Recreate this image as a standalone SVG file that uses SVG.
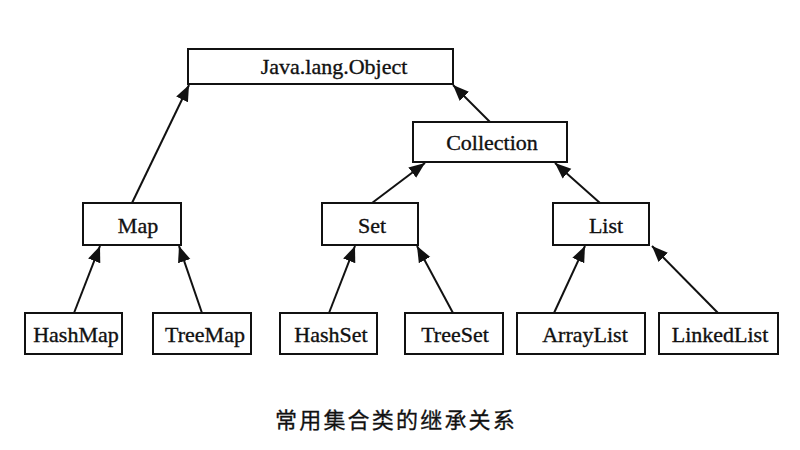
<svg xmlns="http://www.w3.org/2000/svg" width="800" height="450" viewBox="0 0 800 450">
<style>
.box{fill:#fff;stroke:#111;stroke-width:2}
.lbl{font-family:"Liberation Serif","Times New Roman",serif;font-size:22px;fill:#111;stroke:#111;stroke-width:0.35;text-anchor:middle}
.edge{stroke:#111;stroke-width:2;fill:none;marker-end:url(#arr)}
.cap{font-family:"Noto Sans CJK SC","Noto Sans",sans-serif;font-size:22px;fill:#111;stroke:#111;stroke-width:0.3;letter-spacing:2.2px}
</style>
<defs>
<marker id="arr" markerUnits="userSpaceOnUse" markerWidth="18" markerHeight="16" viewBox="0 0 18 16" refX="16" refY="8" orient="auto">
<path d="M0,1.5 L16,8 L0,14.5 Z" fill="#111"/>
</marker>
</defs>
<rect width="800" height="450" fill="#fff"/>
<g id="connectors">
<line class="edge" x1="132" y1="203" x2="189" y2="85"/>
<line class="edge" x1="490" y1="122" x2="453" y2="85"/>
<line class="edge" x1="372" y1="203" x2="425" y2="163"/>
<line class="edge" x1="600" y1="203" x2="555" y2="163"/>
<line class="edge" x1="74" y1="313" x2="100" y2="246"/>
<line class="edge" x1="202" y1="313" x2="179" y2="246"/>
<line class="edge" x1="329" y1="313" x2="355" y2="246"/>
<line class="edge" x1="453" y1="313" x2="417" y2="246"/>
<line class="edge" x1="554" y1="313" x2="585" y2="246"/>
<line class="edge" x1="718" y1="313" x2="652" y2="246"/>
</g>
<g id="object"><rect class="box" x="188" y="49" width="265" height="35"/><text class="lbl" x="334" y="74">Java.lang.Object</text></g>
<g id="collection"><rect class="box" x="413" y="122" width="154" height="40"/><text class="lbl" x="492" y="150">Collection</text></g>
<g id="map"><rect class="box" x="83" y="203" width="98" height="42"/><text class="lbl" x="138" y="233">Map</text></g>
<g id="set"><rect class="box" x="322" y="203" width="96" height="42"/><text class="lbl" x="372" y="233">Set</text></g>
<g id="list"><rect class="box" x="553" y="203" width="96" height="42"/><text class="lbl" x="606" y="233">List</text></g>
<g id="hashmap"><rect class="box" x="25" y="313" width="97" height="41"/><text class="lbl" x="76" y="342">HashMap</text></g>
<g id="treemap"><rect class="box" x="153" y="313" width="98" height="41"/><text class="lbl" x="205" y="342">TreeMap</text></g>
<g id="hashset"><rect class="box" x="280" y="313" width="97" height="41"/><text class="lbl" x="331" y="342">HashSet</text></g>
<g id="treeset"><rect class="box" x="405" y="313" width="98" height="41"/><text class="lbl" x="455" y="342">TreeSet</text></g>
<g id="arraylist"><rect class="box" x="517" y="313" width="128" height="41"/><text class="lbl" x="585" y="342">ArrayList</text></g>
<g id="linkedlist"><rect class="box" x="659" y="313" width="119" height="41"/><text class="lbl" x="720" y="342">LinkedList</text></g>
<text class="cap" x="275" y="428">常用集合类的继承关系</text>
</svg>
